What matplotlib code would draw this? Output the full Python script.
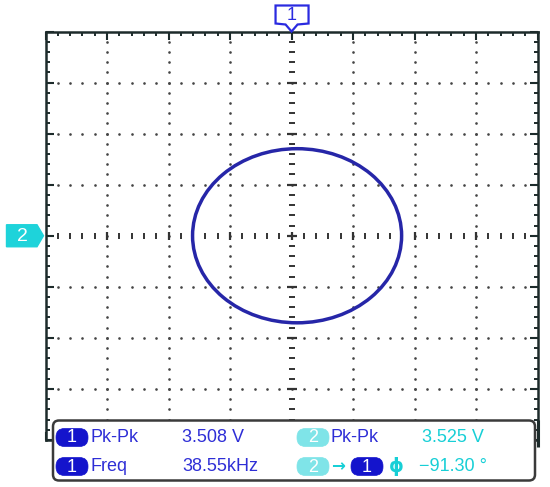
import matplotlib
matplotlib.use("Agg")
import matplotlib.pyplot as plt
import numpy as np
from matplotlib.patches import Ellipse, Polygon, FancyBboxPatch
from matplotlib.ticker import MultipleLocator

# ---------------- data ----------------
n_div_x = 8
n_div_y = 8
minor_per_div = 5
# Lissajous trace (in divisions, 1 V/div)
trace_center = [0.09, 0.0]
trace_size = [3.40, 3.41]          # width, height in divisions
# measurement readouts
row1_labels = ["Pk-Pk", "3.508 V", "Pk-Pk", "3.525 V"]
row2_labels = ["Freq", "38.55kHz", "\u03d5", "\u221291.30 \u00b0"]
ch1_marker = "1"
ch2_marker = "2"

# ---------------- style ----------------
W, H = 550, 487
BLUE_TXT = "#2e2ed6"
BLUE_PILL = "#1414cc"
CYAN_TXT = "#17cfd6"
CYAN_PILL = "#7fe4e8"
CYAN_MARK = "#1ed3da"
FRAME = "#1d2b2b"
DOT = "#444444"
TRACE = "#2626a8"
FONT = ["Liberation Sans", "DejaVu Sans"]

plt.rcParams["font.family"] = FONT

fig = plt.figure(figsize=(W / 100, H / 100), dpi=100)
fig.patch.set_facecolor("white")

# main graticule axes (pixel extents)
x0, x1, y0, y1 = 45.6, 537.5, 31.5, 440.0
ax = fig.add_axes([x0 / W, (H - y1) / H, (x1 - x0) / W, (y1 - y0) / H])
hx, hy = n_div_x / 2, n_div_y / 2
ax.set_xlim(-hx, hx)
ax.set_ylim(-hy, hy)
for s in ax.spines.values():
    s.set_color(FRAME)
    s.set_linewidth(1.8)
ax.xaxis.set_major_locator(MultipleLocator(1))
ax.xaxis.set_minor_locator(MultipleLocator(1 / minor_per_div))
ax.yaxis.set_major_locator(MultipleLocator(1))
ax.yaxis.set_minor_locator(MultipleLocator(1 / minor_per_div))
ax.tick_params(which="both", direction="in", top=True, right=True,
               labelbottom=False, labelleft=False, color=FRAME)
ax.tick_params(which="major", length=6, width=1.5)
ax.tick_params(which="minor", length=3.2, width=1.4)

step = 1 / minor_per_div
ys_all = np.arange(-hy + step, hy - step / 2, step)
xs_all = np.arange(-hx + step, hx - step / 2, step)
# dotted vertical grid lines
for gx in np.arange(-hx + 1, hx):
    if abs(gx) < 1e-9:
        continue
    ax.plot(np.full_like(ys_all, gx), ys_all, ls="none", marker="o",
            ms=1.9, mew=0, color=DOT, zorder=1)
# dotted horizontal grid lines
for gy in np.arange(-hy + 1, hy):
    if abs(gy) < 1e-9:
        continue
    ax.plot(xs_all, np.full_like(xs_all, gy), ls="none", marker="o",
            ms=1.9, mew=0, color=DOT, zorder=1)
# centre cross (dashes)
major_y = np.isclose(np.mod(ys_all + 1e-9, 1), 0, atol=1e-6)
major_x = np.isclose(np.mod(xs_all + 1e-9, 1), 0, atol=1e-6)
ax.plot(np.zeros(np.sum(~major_y)), ys_all[~major_y], ls="none", marker="_",
        ms=4.5, mew=1.4, color="#333333", zorder=1)
ax.plot(np.zeros(np.sum(major_y)), ys_all[major_y], ls="none", marker="_",
        ms=6.5, mew=1.6, color="#333333", zorder=1)
ax.plot(xs_all[~major_x], np.zeros(np.sum(~major_x)), ls="none", marker="|",
        ms=3.8, mew=1.4, color="#333333", zorder=1)
ax.plot(xs_all[major_x], np.zeros(np.sum(major_x)), ls="none", marker="|",
        ms=6, mew=1.6, color="#333333", zorder=1)

# Lissajous trace
trace = Ellipse(trace_center, trace_size[0], trace_size[1], fill=False,
                edgecolor=TRACE, linewidth=2.5, zorder=3)
ax.add_patch(trace)

# ---------------- overlay (pixel coords) ----------------
ov = fig.add_axes([0, 0, 1, 1])
ov.set_xlim(0, W)
ov.set_ylim(H, 0)
ov.axis("off")
ov.patch.set_alpha(0)

# channel 1 marker at top
cx = x0 + (x1 - x0) / 2
top = Polygon([[cx - 16, 5.5], [cx + 17, 5.5], [cx + 17, 23.5],
               [cx + 6, 24.5], [cx, 31.5], [cx - 6, 24.5], [cx - 16, 23.5]],
              closed=True, facecolor="white", edgecolor="#2a2ae0", lw=1.6, zorder=5)
ov.add_patch(top)
ov.text(cx + 0.5, 16, ch1_marker, color="#2a2ae0", fontsize=13, ha="center",
        va="center", zorder=6)

# channel 2 marker at left
cy = y0 + (y1 - y0) / 2
left = Polygon([[6.5, cy - 11], [37, cy - 11], [43.5, cy], [37, cy + 11], [6.5, cy + 11]],
               closed=True, facecolor=CYAN_MARK, edgecolor=CYAN_MARK, lw=1, zorder=5)
ov.add_patch(left)
ov.text(22, cy + 0.5, ch2_marker, color="white", fontsize=14, ha="center",
        va="center", zorder=6)

# right frame continuation beside the box
ov.plot([537.5, 537.5], [420, 447], color=FRAME, lw=2.2, zorder=3,
        solid_capstyle="butt")

# measurement box
box = FancyBboxPatch((53, 420.5), 482, 60, boxstyle="round,pad=0,rounding_size=6",
                     facecolor="white", edgecolor="#3a3a3a", lw=1.8, zorder=4)
ov.add_patch(box)


def pill(x, yc, label, face, w=32, h=18):
    p = FancyBboxPatch((x, yc - h / 2), w, h,
                       boxstyle="round,pad=0,rounding_size=8.5",
                       facecolor=face, edgecolor=face, lw=0.5, zorder=5)
    ov.add_patch(p)
    ov.text(x + w / 2, yc + 0.5, label, color="white", fontsize=13,
            ha="center", va="center", zorder=6)


r1, r2 = 437.5, 466.5
fs = 13
pill(56, r1, ch1_marker, BLUE_PILL)
ov.text(91, r1, row1_labels[0], color=BLUE_TXT, fontsize=fs, va="center", zorder=6)
ov.text(182, r1, row1_labels[1], color=BLUE_TXT, fontsize=fs, va="center", zorder=6)
pill(297, r1, ch2_marker, CYAN_PILL)
ov.text(331, r1, row1_labels[2], color=BLUE_TXT, fontsize=fs, va="center", zorder=6)
ov.text(422, r1, row1_labels[3], color=CYAN_TXT, fontsize=fs, va="center", zorder=6)

pill(56, r2, ch1_marker, BLUE_PILL)
ov.text(91, r2, row2_labels[0], color=BLUE_TXT, fontsize=fs, va="center", zorder=6)
ov.text(182, r2, row2_labels[1], color=BLUE_TXT, fontsize=fs, va="center", zorder=6)
pill(297, r2, ch2_marker, CYAN_PILL)
ov.text(331.5, r2, "\u2192", color=CYAN_TXT, fontsize=12, va="center",
        fontweight="bold", zorder=6, family=["DejaVu Sans"])
pill(351, r2, ch1_marker, BLUE_PILL)
ov.text(389, r2, row2_labels[2], color=CYAN_TXT, fontsize=13.5, va="center",
        fontweight="bold", zorder=6, family=["DejaVu Sans"])
ov.text(419, r2, row2_labels[3], color=CYAN_TXT, fontsize=fs, va="center", zorder=6)

fig.savefig("out.png", dpi=100, facecolor="white")
